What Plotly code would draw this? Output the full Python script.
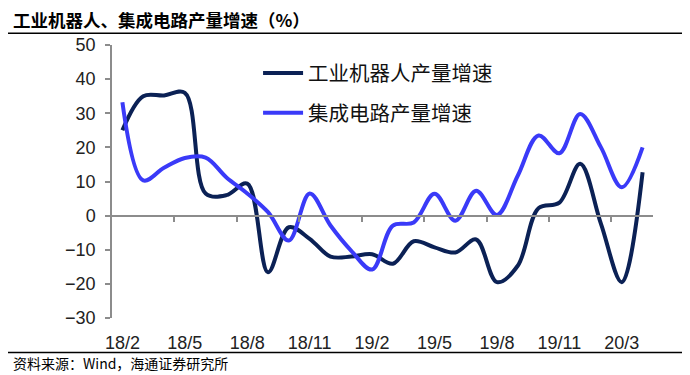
import plotly.graph_objects as go

# ---- data ----
months = ["18/2", "18/3", "18/4", "18/5", "18/6", "18/7", "18/8", "18/9", "18/10", "18/11", "18/12",
          "19/1", "19/2", "19/3", "19/4", "19/5", "19/6", "19/7", "19/8", "19/9", "19/10", "19/11", "19/12",
          "20/2", "20/3", "20/4"]
robot_growth = [25, 35, 35.2, 36, 6.5, 6, 9.4, -16.6, -3.4, -6.8, -12, -12, -11.3, -14.1, -7.5, -9.3,
                -10.8, -7, -19.5, -14.7, 2.2, 3.8, 15.2, -2.4, -19.5, 12.7]
ic_growth = [33.2, 10.3, 14, 16.9, 17, 11.2, 6.5, 1, -7.3, 6.5, -2.9, -10.3, -15.8, -2.9, -2, 6.4,
             -1.5, 7.3, 0.2, 11.7, 23.5, 18.3, 29.8, 20, 8.3, 20]
series_names = ["工业机器人产量增速", "集成电路产量增速"]
title_text = "工业机器人、集成电路产量增速（%）"
source_text = "资料来源：Wind，海通证券研究所"
y_ticks = [-30, -20, -10, 0, 10, 20, 30, 40, 50]

idx = list(range(len(months)))
label_idx = idx[::3]
label_text = [months[i] for i in label_idx]
boundary_ticks = [i + 2.5 for i in label_idx if i + 2.5 < len(months) - 1]

DARK = "#0B2155"
BLUE = "#3A3AF8"
CJK = "Noto Sans CJK SC"

fig = go.Figure()
fig.add_trace(go.Scatter(x=idx, y=robot_growth, mode="lines", name=series_names[0],
                         line=dict(color=DARK, width=4, shape="spline", smoothing=1.0),
                         legendgroup="a"))
fig.add_trace(go.Scatter(x=idx, y=ic_growth, mode="lines", name=series_names[1],
                         line=dict(color=BLUE, width=4, shape="spline", smoothing=1.0),
                         legendgroup="b"))
# helper trace to register the zero-line axis
fig.add_trace(go.Scatter(x=[idx[0]], y=[0], xaxis="x2", yaxis="y", mode="markers",
                         marker=dict(opacity=0), showlegend=False, hoverinfo="skip"))

xr = [-0.5, len(months) - 0.5]
fig.update_layout(
    width=682, height=367,
    margin=dict(l=104, r=37, t=37, b=57),
    paper_bgcolor="white", plot_bgcolor="white",
    showlegend=True,
    legend=dict(x=0.27, y=0.97, xanchor="left", yanchor="top",
                font=dict(family=CJK, size=20.5, color="#111"),
                bgcolor="rgba(0,0,0,0)", tracegroupgap=10, itemwidth=40),
    xaxis=dict(range=xr, tickmode="array", tickvals=label_idx, ticktext=label_text,
               showgrid=False, zeroline=False, showline=False,
               ticks="outside", ticklen=8, tickcolor="rgba(0,0,0,0)",
               tickfont=dict(family="Liberation Sans, Arial", size=18, color="#222")),
    xaxis2=dict(range=xr, overlaying="x", anchor="free", position=0.375,
                tickmode="array", tickvals=boundary_ticks, showticklabels=False,
                showgrid=False, zeroline=False, showline=True, linecolor="#8c8c8c", linewidth=1.5,
                ticks="outside", ticklen=6, tickcolor="#8c8c8c", tickwidth=1.5),
    yaxis=dict(range=[-30, 50], tickmode="array", tickvals=y_ticks,
               showgrid=False, zeroline=False, showline=True, linecolor="#8c8c8c", linewidth=1.5,
               ticks="outside", ticklen=5, tickcolor="#8c8c8c", tickwidth=1.5,
               ticklabelstandoff=6,
               tickfont=dict(family="Liberation Sans, Arial", size=18, color="#222")),
)

# title, source and separator rules
fig.add_annotation(text="<b>" + title_text + "</b>", xref="paper", yref="paper",
                   x=-0.187, y=1.097, xanchor="left", yanchor="middle", showarrow=False,
                   height=20, valign="middle",
                   font=dict(family=CJK, size=17.5, color="#000"))
fig.add_annotation(text=source_text, xref="paper", yref="paper",
                   x=-0.187, y=-0.165, xanchor="left", yanchor="middle", showarrow=False,
                   font=dict(family=CJK, size=14, color="#000"))
fig.add_shape(type="line", xref="paper", yref="paper", x0=-0.2, x1=1.07, y0=1.043, y1=1.043,
              line=dict(color="#000", width=1.5))
fig.add_shape(type="line", xref="paper", yref="paper", x0=-0.2, x1=1.07, y0=-0.126, y1=-0.126,
              line=dict(color="#000", width=1.5))

fig.write_html("out.html")
